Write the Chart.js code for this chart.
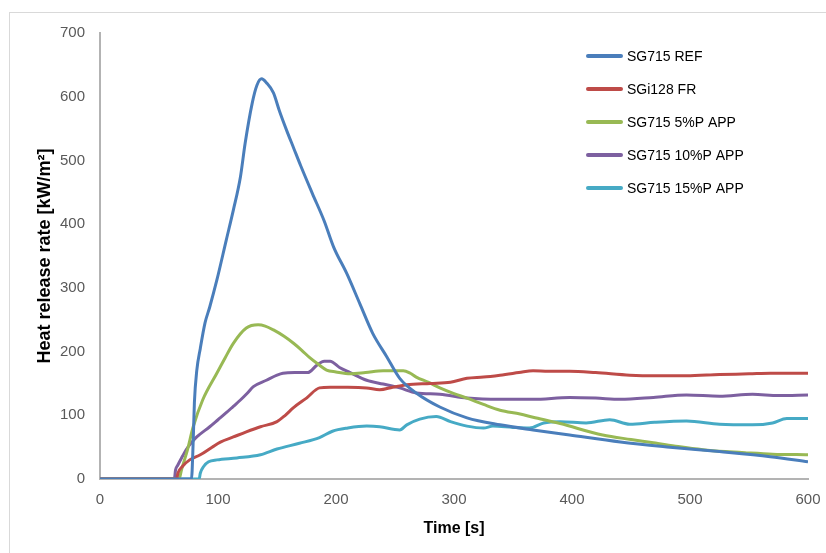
<!DOCTYPE html>
<html>
<head>
<meta charset="utf-8">
<script src="https://cdn.jsdelivr.net/npm/chart.js@4"></script>
<style>
    html, body { margin: 0; padding: 0; background: #fff; overflow: hidden; }
    #wrap { position: relative; width: 826px; height: 553px; }
    #frame { position: absolute; left: 9px; top: 12px; width: 900px; height: 600px; border: 1px solid #d9d9d9; }
    #hrrChart { position: absolute; left: 0; top: 0; }
</style>
</head>
<body>
<div id="wrap">
    <div id="frame"></div>
    <canvas id="hrrChart" width="826" height="553"></canvas>
</div>
<script>
// time [s], heat release rate [kW/m2]
const sg715Ref = [[0,0],[77.5,0],[79,60],[80,120],[82,170],[85,205],[89,245],[93,270],[99,312],[107,375],[113,422],[119,474],[123,527],[129,590],[133,618],[137,628],[141,622],[147,606],[152,578],[158,548],[164,520],[170,492],[180,448],[190,405],[198,364],[209,323],[220,276],[231,229],[243,192],[254,158],[268,135],[288,113],[311,96],[339,85],[367,77],[398,69],[441,58],[483,50],[525,43],[568,35],[600,27]];
const sgi128Fr = [[0,0],[65,0],[66,9],[70,20],[76,30],[85,38],[95,50],[102,58],[113,66],[124,74],[136,82],[150,90],[157,100],[164,112],[175,127],[186,143],[195,144],[210,144],[226,143],[237,140],[248,144],[260,148],[280,150],[297,152],[311,158],[325,160],[339,163],[355,167],[367,170],[380,169],[398,169],[420,167],[449,163],[470,162],[497,162],[525,164],[550,165],[568,166],[600,166]];
const sg715App5 = [[0,0],[67,0],[69,14],[74,45],[79,82],[87,124],[99,166],[106,190],[113,213],[124,237],[134,242],[140,240],[147,234],[156,224],[164,213],[171,202],[178,190],[185,180],[192,171],[200,168],[212,165],[225,167],[240,170],[257,170],[263,166],[268,160],[278,152],[288,143],[300,134],[311,127],[325,117],[339,108],[356,102],[367,97],[390,87],[426,69],[450,62],[469,57],[490,51],[511,46],[530,43],[548,41],[570,39],[600,38]];
const sg715App10 = [[0,0],[63,0],[64,14],[66,22],[70,36],[73,46],[78,58],[82,66],[93,82],[100,93],[107,104],[113,114],[119,124],[125,135],[130,145],[141,155],[150,163],[155,166],[165,167],[176,167],[184,179],[190,185],[195,185],[203,175],[212,167],[226,155],[240,149],[254,143],[268,135],[288,133],[311,127],[339,125],[367,125],[398,128],[420,127],[441,125],[469,128],[497,132],[525,130],[553,133],[575,131],[600,132]];
const sg715App15 = [[0,0],[84,0],[85,9],[88,20],[92,27],[99,30],[116,33],[136,38],[150,47],[169,56],[186,65],[197,75],[210,80],[226,83],[237,82],[254,77],[260,85],[271,94],[285,98],[297,90],[311,83],[325,80],[333,83],[350,81],[364,80],[376,88],[390,90],[412,88],[432,93],[449,86],[470,89],[497,91],[525,86],[553,85],[570,88],[582,95],[600,95]];

const seriesNames = ["SG715 REF", "SGi128 FR", "SG715 5%P APP", "SG715 10%P APP", "SG715 15%P APP"];
const seriesData = [sg715Ref, sgi128Fr, sg715App5, sg715App10, sg715App15];
const seriesColors = ["#4a7ebb", "#be4b48", "#98b954", "#7d60a0", "#46aac5"];

const xTicks = [0, 100, 200, 300, 400, 500, 600];
const yTicks = [0, 100, 200, 300, 400, 500, 600, 700];

// legend drawn inside the plot, top right, like the Excel original
const insideLegend = {
    id: "insideLegend",
    afterDraw(chart) {
        const ctx = chart.ctx;
        ctx.save();
        ctx.font = "14px 'Liberation Sans', Arial, sans-serif";
        ctx.textBaseline = "middle";
        ctx.fillStyle = "#000";
        chart.data.datasets.forEach((ds, i) => {
            const y = 56 + i * 33;
            ctx.strokeStyle = ds.borderColor;
            ctx.lineWidth = 4;
            ctx.lineCap = "round";
            ctx.beginPath();
            ctx.moveTo(588, y);
            ctx.lineTo(621, y);
            ctx.stroke();
            ctx.fillText(ds.label, 627, y + 1);
        });
        ctx.restore();
    }
};

const tickFont = { family: "'Liberation Sans', Arial, sans-serif", size: 15 };

new Chart(document.getElementById("hrrChart"), {
    type: "scatter",
    data: {
        datasets: seriesNames.map((name, i) => ({
            label: name,
            data: seriesData[i].map(p => ({ x: p[0], y: p[1] })),
            showLine: true,
            borderColor: seriesColors[i],
            backgroundColor: seriesColors[i],
            borderWidth: 3,
            pointRadius: 0,
            tension: 0.3,
            cubicInterpolationMode: "monotone"
        }))
    },
    options: {
        responsive: false,
        animation: false,
        layout: { padding: { left: 0, right: 18, top: 33, bottom: 0 } },
        plugins: {
            legend: { display: false },
            tooltip: { enabled: false }
        },
        scales: {
            x: {
                type: "linear",
                min: 0,
                max: 600,
                afterFit: s => { s.height = 74; s.paddingLeft = 0; s.paddingRight = 0; },
                afterBuildTicks: s => { s.ticks = xTicks.map(v => ({ value: v })); },
                grid: { display: false, drawTicks: false },
                border: { display: true, color: "#b3b3b3", width: 2 },
                ticks: { color: "#595959", font: tickFont, padding: 12, maxRotation: 0 },
                title: {
                    display: true,
                    text: "Time [s]",
                    color: "#000",
                    font: { family: "'Liberation Sans', Arial, sans-serif", size: 16, weight: "bold" },
                    padding: { top: 0, bottom: 15 }
                }
            },
            y: {
                min: 0,
                max: 700,
                afterFit: s => { s.width = 100; s.paddingTop = 0; s.paddingBottom = 0; },
                afterBuildTicks: s => { s.ticks = yTicks.map(v => ({ value: v })); },
                grid: { display: false, drawTicks: false },
                border: { display: true, color: "#b3b3b3", width: 2 },
                ticks: { color: "#595959", font: tickFont, padding: 15 },
                title: {
                    display: true,
                    text: "Heat release rate [kW/m²]",
                    color: "#000",
                    font: { family: "'Liberation Sans', Arial, sans-serif", size: 18, weight: "bold" },
                    padding: { top: 34, bottom: 0 }
                }
            }
        }
    },
    plugins: [insideLegend]
});
</script>
</body>
</html>
